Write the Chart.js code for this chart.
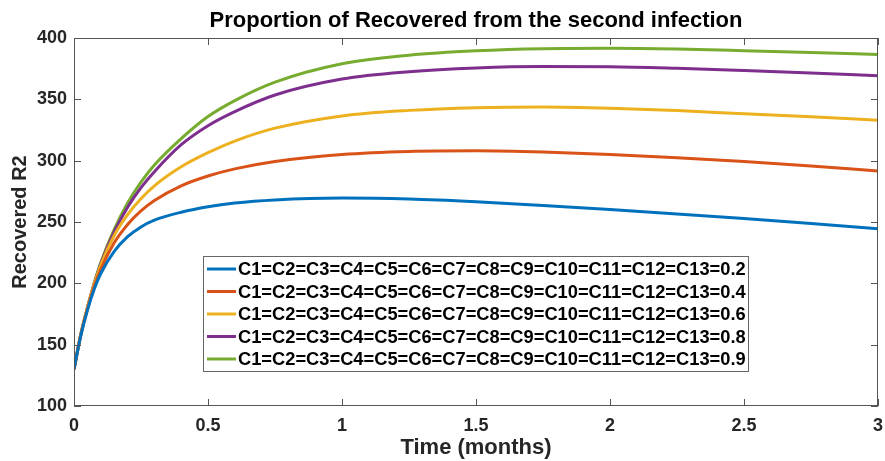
<!DOCTYPE html>
<html>
<head>
<meta charset="utf-8">
<script src="https://cdn.jsdelivr.net/npm/chart.js@4.4.1/dist/chart.umd.min.js"></script>
<style>
  html, body { margin: 0; padding: 0; background: #fff; }
  #wrap { width: 885px; height: 461px; }
</style>
</head>
<body>
<div id="wrap"><canvas id="recoveredChart" width="885" height="461"></canvas></div>
<script>
// time points (months)
const times = [0, 0.025, 0.05, 0.075, 0.1, 0.15, 0.2, 0.25, 0.3, 0.4, 0.5, 0.6, 0.75, 1.0, 1.25, 1.5, 1.75, 2.0, 2.25, 2.5, 2.75, 3.0];

// Recovered R2 for each C value
const r2_02 = [130, 157, 178, 195, 208, 226, 238, 246, 251.5, 258, 262.5, 265.5, 268, 269.5, 268.7, 266.5, 263.5, 260.2, 256.6, 252.8, 248.8, 244.5];
const r2_04 = [130, 157.5, 179, 197, 211.5, 233, 248, 259, 267.5, 279.5, 287.5, 293.3, 299.3, 305, 307.5, 308, 307, 305, 302.4, 299.3, 295.7, 291.6];
const r2_06 = [130, 158, 180, 199, 215, 239, 256, 269, 279.5, 295, 306.5, 316, 326.5, 336.5, 341, 343.2, 343.8, 342.8, 340.8, 338.3, 335.8, 333];
const r2_08 = [130, 158, 180, 199.5, 216, 242, 262, 278, 291, 313, 328.5, 340, 353.5, 366.5, 372.5, 375.6, 376.8, 376.6, 375.3, 373.5, 371.5, 369.3];
const r2_09 = [130, 158, 180, 200, 217, 244, 265.5, 282.5, 296.5, 318, 336, 349, 364, 379, 386, 389.6, 391.3, 391.6, 391, 389.7, 388.2, 386.5];

const seriesLabels = [
  "C1=C2=C3=C4=C5=C6=C7=C8=C9=C10=C11=C12=C13=0.2",
  "C1=C2=C3=C4=C5=C6=C7=C8=C9=C10=C11=C12=C13=0.4",
  "C1=C2=C3=C4=C5=C6=C7=C8=C9=C10=C11=C12=C13=0.6",
  "C1=C2=C3=C4=C5=C6=C7=C8=C9=C10=C11=C12=C13=0.8",
  "C1=C2=C3=C4=C5=C6=C7=C8=C9=C10=C11=C12=C13=0.9"
];
const seriesColors = ["#0072BD", "#D95319", "#EDB120", "#7E2F8E", "#77AC30"];
const seriesValues = [r2_02, r2_04, r2_06, r2_08, r2_09];

const xTicks = [0, 0.5, 1, 1.5, 2, 2.5, 3];
const yTicks = [100, 150, 200, 250, 300, 350, 400];

const FONT = "'Liberation Sans', Arial, Helvetica, sans-serif";
const INK = "#262626";

// MATLAB-like box with inward ticks, title and legend inside the axes
const matlabAxes = {
  id: "matlabAxes",
  afterDatasetsDraw(chart) {
    const { ctx, chartArea: a, scales: { x, y } } = chart;
    ctx.save();
    ctx.strokeStyle = "#555";
    ctx.lineWidth = 1;
    ctx.strokeRect(a.left + 0.5, a.top + 0.5, a.right - a.left - 1, a.bottom - a.top - 1);
    ctx.beginPath();
    const tl = 7;
    xTicks.forEach(v => {
      const px = Math.round(x.getPixelForValue(v)) + 0.5;
      ctx.moveTo(px, a.bottom); ctx.lineTo(px, a.bottom - tl);
      ctx.moveTo(px, a.top); ctx.lineTo(px, a.top + tl);
    });
    yTicks.forEach(v => {
      const py = Math.round(y.getPixelForValue(v)) + 0.5;
      ctx.moveTo(a.left, py); ctx.lineTo(a.left + tl, py);
      ctx.moveTo(a.right, py); ctx.lineTo(a.right - tl, py);
    });
    ctx.stroke();

    // title
    ctx.fillStyle = "#000";
    ctx.font = "bold 22px " + FONT;
    ctx.textAlign = "center";
    ctx.textBaseline = "middle";
    ctx.fillText("Proportion of Recovered from the second infection", (a.left + a.right) / 2, 21);

    // legend
    const bx = 203, by = 256, bw = 545, bh = 115;
    ctx.fillStyle = "#fff";
    ctx.fillRect(bx, by, bw, bh);
    ctx.strokeStyle = "#666";
    ctx.lineWidth = 1;
    ctx.strokeRect(bx + 0.5, by + 0.5, bw, bh);
    ctx.font = "bold 18.3px " + FONT;
    ctx.textAlign = "left";
    chart.data.datasets.forEach((ds, i) => {
      const cy = 269 + i * 22.5;
      ctx.strokeStyle = ds.borderColor;
      ctx.lineWidth = 3;
      ctx.beginPath();
      ctx.moveTo(bx + 4, cy); ctx.lineTo(bx + 33, cy);
      ctx.stroke();
      ctx.fillStyle = "#000";
      ctx.fillText(ds.label, bx + 35, cy + 1);
    });
    ctx.restore();
  }
};

const ctx = document.getElementById("recoveredChart").getContext("2d");
const recoveredChart = new Chart(ctx, {
  type: "line",
  data: {
    datasets: seriesValues.map((vals, i) => ({
      label: seriesLabels[i],
      data: times.map((t, k) => ({ x: t, y: vals[k] })),
      borderColor: seriesColors[i],
      borderWidth: 3,
      pointRadius: 0,
      fill: false,
      cubicInterpolationMode: "monotone"
    }))
  },
  options: {
    responsive: false,
    animation: false,
    layout: { padding: { top: 38, right: 7, left: 0, bottom: 0 } },
    plugins: {
      legend: { display: false },
      title: { display: false },
      tooltip: { enabled: false }
    },
    scales: {
      x: {
        type: "linear",
        min: 0, max: 3,
        afterFit(scale) { scale.height = 55; },
        afterBuildTicks(scale) { scale.ticks = xTicks.map(v => ({ value: v })); },
        grid: { display: true, drawOnChartArea: false, drawTicks: true, tickLength: 9, color: "rgba(0,0,0,0)" },
        border: { display: false },
        ticks: {
          color: INK, padding: 0, maxRotation: 0,
          font: { family: FONT, size: 18, weight: "bold" },
          callback: v => String(v)
        },
        title: {
          display: true, text: "Time (months)", color: INK,
          padding: { top: 0, bottom: 0 },
          font: { family: FONT, size: 22, weight: "bold" }
        }
      },
      y: {
        min: 100, max: 400,
        afterFit(scale) { scale.width = 74; },
        afterBuildTicks(scale) { scale.ticks = yTicks.map(v => ({ value: v })); },
        grid: { display: true, drawOnChartArea: false, drawTicks: false, color: "rgba(0,0,0,0)" },
        border: { display: false },
        ticks: {
          color: INK, padding: 7,
          font: { family: FONT, size: 18, weight: "bold" },
          callback: v => String(v)
        },
        title: {
          display: true, text: "Recovered R2", color: INK,
          padding: { top: 8, bottom: 0 },
          font: { family: FONT, size: 20, weight: "bold" }
        }
      }
    }
  },
  plugins: [matlabAxes]
});
</script>
</body>
</html>
